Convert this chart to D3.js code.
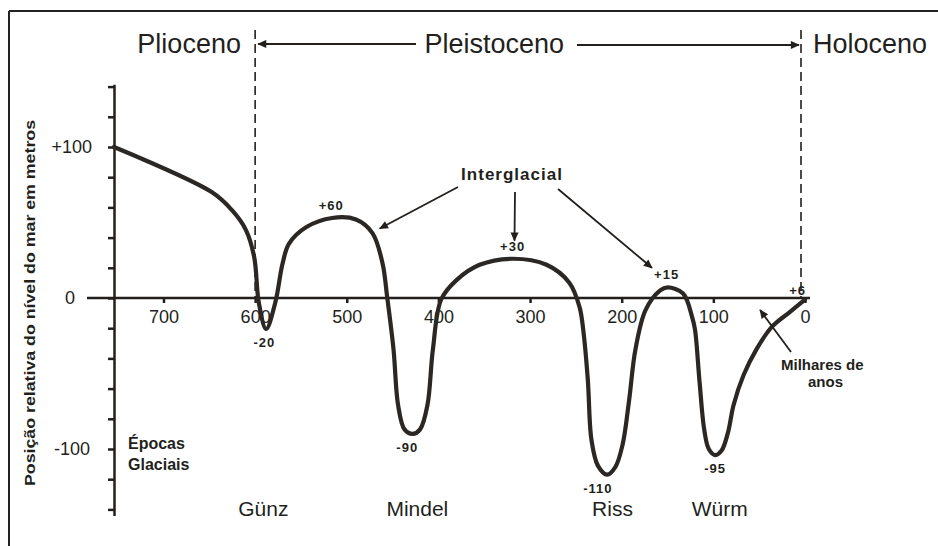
<!DOCTYPE html>
<html>
<head>
<meta charset="utf-8">
<script src="https://cdn.jsdelivr.net/npm/d3@7/dist/d3.min.js"></script>
<style>
body{margin:0;background:#fff;}
svg{font-family:"Liberation Sans",Arial,sans-serif;}
text{fill:#231f1c;}
.axis path,.axis line{stroke:#231f1c;stroke-width:2.5;}
.axis text{font-size:18px;fill:#231f1c;}
.curve{fill:none;stroke:#2b2724;stroke-width:4.2;stroke-linejoin:round;stroke-linecap:round;}
.arrow{stroke:#231f1c;stroke-width:1.8;fill:none;}
.small{font-size:13px;font-weight:bold;letter-spacing:1px;}
</style>
</head>
<body>
<svg id="chart" width="938" height="546"></svg>
<script>
// sea level curve, thousands of years before present vs metres
const ages = [754, 647, 625, 610, 601, 596, 588, 578, 570, 563, 544, 516, 490, 472, 461, 456,
    449, 444, 437, 428, 420, 412, 406, 397, 380, 355, 319, 282, 257, 246,
    242, 237, 233, 226, 216, 207, 199, 192, 185, 174, 158, 150, 133, 123,
    120, 115, 110, 105, 98, 91, 84, 78, 67, 53, 36, 16, 0];
const levels = [100, 70, 58, 45, 27, -3, -20.5, -3, 23, 36, 47, 53, 52, 43, 23, 1,
    -34, -71, -87, -90, -87, -71, -34, -1, 12, 22, 26, 22, 10, -6,
    -21, -54, -94, -111, -117, -112, -97, -68, -34, -8, 5, 7, 3, -13,
    -21, -56, -87, -100, -104, -101, -89, -71, -51, -34, -19, -9, -1];

const xTicks = [700, 600, 500, 400, 300, 200, 100, 0];
const yTicks = d3.range(-140, 141, 20);
const yLabels = ["+100", "0", "-100"];
const yLabelValues = [100, 0, -100];

const periodNames = ["Plioceno", "Pleistoceno", "Holoceno"];
const periodAges = [672, 339, -71];
const boundaryAges = [600, 0];

const epochNames = ["Günz", "Mindel", "Riss", "Würm"];
const epochAges = [591, 423, 210, 93];

const extremaText = ["-20", "+60", "-90", "+30", "-110", "+15", "-95", "+6"];
const extremaAges = [590, 517, 434, 319, 226, 151, 98, 8];

const interglacialAges = [464, 317, 167];
const interglacialLevels = [46, 38, 20];

const svg = d3.select("#chart");
const x = d3.scaleLinear().domain([754, 0]).range([114, 805]);
const y = d3.scaleLinear().domain([100, 0]).range([147, 298]);

svg.append("defs").append("marker").attr("id", "head")
    .attr("viewBox", "0 0 10 10").attr("refX", 9).attr("refY", 5)
    .attr("markerWidth", 11).attr("markerHeight", 9).attr("markerUnits", "userSpaceOnUse")
    .attr("orient", "auto")
    .append("path").attr("d", "M0,0.5L10,5L0,9.5z").attr("fill", "#231f1c");

// frame
svg.append("line").attr("x1", 9).attr("x2", 9).attr("y1", 11).attr("y2", 546)
    .attr("stroke", "#222").attr("stroke-width", 2);
svg.append("line").attr("x1", 9).attr("x2", 938).attr("y1", 11).attr("y2", 11)
    .attr("stroke", "#222").attr("stroke-width", 2);

// y axis
let yAxisScale = y.copy().domain([141.5, -144]).range([y(141.5), y(-144)]);
let yAxis = d3.axisLeft(yAxisScale).tickValues(yTicks).tickFormat("").tickSize(6).tickSizeOuter(0);
svg.append("g").attr("class", "axis").attr("transform", "translate(114,0)").call(yAxis);
svg.selectAll(".ylab").data(yLabels).enter().append("text").attr("class", "ylab")
    .attr("x", (d, i) => i === 1 ? 75 : (i === 0 ? 92 : 90))
    .attr("y", (d, i) => y(yLabelValues[i]) + 6)
    .attr("text-anchor", "end").style("font-size", "18px")
    .text(d => d);

svg.append("text")
    .attr("transform", "translate(35," + 303 + ") rotate(-90)")
    .attr("text-anchor", "middle").style("font-size", "15px").style("font-weight", "bold")
    .attr("textLength", 366).attr("lengthAdjust", "spacingAndGlyphs")
    .text("Posição relativa do nível do mar em metros");

// x axis
svg.append("line").attr("x1", 87).attr("x2", 810).attr("y1", y(0)).attr("y2", y(0))
    .attr("stroke", "#231f1c").attr("stroke-width", 2.5);
let xAxis = d3.axisBottom(x).tickValues(xTicks).tickSize(5).tickPadding(7).tickFormat(d => d);
let xg = svg.append("g").attr("class", "axis").attr("transform", "translate(0," + y(0) + ")").call(xAxis);
xg.select(".domain").remove();

// period boundaries and header
svg.selectAll(".bound").data(boundaryAges).enter().append("line").attr("class", "bound")
    .attr("x1", d => x(d) - (d === 0 ? 4 : 0)).attr("x2", d => x(d) - (d === 0 ? 4 : 0))
    .attr("y1", 30).attr("y2", y(0))
    .attr("stroke", "#231f1c").attr("stroke-width", 1.6).attr("stroke-dasharray", "9,5");
svg.selectAll(".period").data(periodNames).enter().append("text").attr("class", "period")
    .attr("x", (d, i) => x(periodAges[i])).attr("y", 53)
    .attr("text-anchor", "middle").style("font-size", "27px")
    .text(d => d);
svg.append("line").attr("x1", 416).attr("x2", x(600) + 3).attr("y1", 44).attr("y2", 44)
    .attr("class", "arrow").attr("stroke-width", 2.6).attr("marker-end", "url(#head)");
svg.append("line").attr("x1", 577).attr("x2", x(0) - 6).attr("y1", 45).attr("y2", 45)
    .attr("class", "arrow").attr("stroke-width", 2.6).attr("marker-end", "url(#head)");

// sea level curve
let lineGenerator = d3.line()
    .x((d, i) => x(ages[i]))
    .y((d, i) => y(levels[i]))
    .curve(d3.curveCatmullRom.alpha(0.5));
svg.append("path").attr("class", "curve").attr("d", lineGenerator(ages));

// extrema labels, placed from the nearest drawn extreme
svg.selectAll(".ext").data(extremaText).enter().append("text").attr("class", "small")
    .attr("x", (d, i) => x(extremaAges[i]))
    .attr("y", (d, i) => {
        let near = levels.filter((l, j) => Math.abs(ages[j] - extremaAges[i]) < 20);
        return d[0] === "-" ? y(d3.min(near)) + 18 : y(d3.max(near)) - (i === 7 ? 5 : 8);
    })
    .attr("text-anchor", "middle")
    .text(d => d);

// interglacial annotation
svg.append("text").attr("x", 512).attr("y", 180).attr("text-anchor", "middle")
    .style("font-size", "17px").style("font-weight", "bold").style("letter-spacing", "1px")
    .text("Interglacial");
let starts = [[458, 187], [515, 192], [558, 189]];
svg.selectAll(".ig").data(interglacialAges).enter().append("line").attr("class", "arrow")
    .attr("x1", (d, i) => starts[i][0]).attr("y1", (d, i) => starts[i][1])
    .attr("x2", d => x(d)).attr("y2", (d, i) => y(interglacialLevels[i]))
    .attr("marker-end", "url(#head)");

// thousand years note
svg.append("line").attr("class", "arrow").attr("x1", 791).attr("y1", 352)
    .attr("x2", x(49)).attr("y2", y(-8)).attr("marker-end", "url(#head)");
svg.append("text").attr("x", 781).attr("y", 370).style("font-size", "15px").style("font-weight", "bold")
    .text("Milhares de");
svg.append("text").attr("x", 808).attr("y", 387).style("font-size", "15px").style("font-weight", "bold")
    .text("anos");

// glacial epochs
svg.append("text").attr("x", 128).attr("y", 449).style("font-size", "16px").style("font-weight", "bold")
    .text("Épocas");
svg.append("text").attr("x", 128).attr("y", 470).style("font-size", "16px").style("font-weight", "bold")
    .text("Glaciais");
svg.selectAll(".epoch").data(epochNames).enter().append("text").attr("class", "epoch")
    .attr("x", (d, i) => x(epochAges[i])).attr("y", 516)
    .attr("text-anchor", "middle").style("font-size", "21px")
    .text(d => d);
</script>
</body>
</html>
